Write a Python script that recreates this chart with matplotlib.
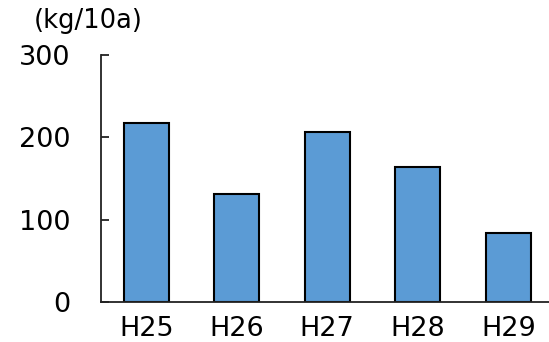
import matplotlib
matplotlib.use("Agg")
import matplotlib.pyplot as plt

categories = ["H25", "H26", "H27", "H28", "H29"]
values = [217, 131, 206, 164, 84]
yticks = [0, 100, 200, 300]
unit_label = "(kg/10a)"

plt.rcParams['font.family'] = ['DejaVu Sans']

W, H = 549, 342
fig = plt.figure(figsize=(W / 100, H / 100), dpi=100)
left, right = 101 / W, 553.5 / W
bottom, top = 1 - 302.3 / H, 1 - 55 / H
ax = fig.add_axes([left, bottom, right - left, top - bottom])

x = list(range(len(categories)))
ax.bar(x, values, width=0.5, color="#5B9BD5", edgecolor="black", linewidth=1.5)
ax.set_xlim(-0.5, len(categories) - 0.5)
ax.set_ylim(0, 300)
ax.set_yticks(yticks)
ax.set_yticklabels([str(v) for v in yticks], fontsize=19.5)
ax.set_xticks(x)
ax.set_xticklabels(categories, fontsize=19.5)

for s in ["top", "right"]:
    ax.spines[s].set_visible(False)
for s in ["left", "bottom"]:
    ax.spines[s].set_linewidth(1.3)
    ax.spines[s].set_color("#222222")

ax.tick_params(axis="y", direction="in", length=6, width=1.3, color="#222222", pad=22)
ax.tick_params(axis="x", length=0, pad=10)

fig.text(88 / W, 1 - 21 / H, unit_label, fontsize=18.5, ha="center", va="center")

fig.savefig("out.png", dpi=100)
